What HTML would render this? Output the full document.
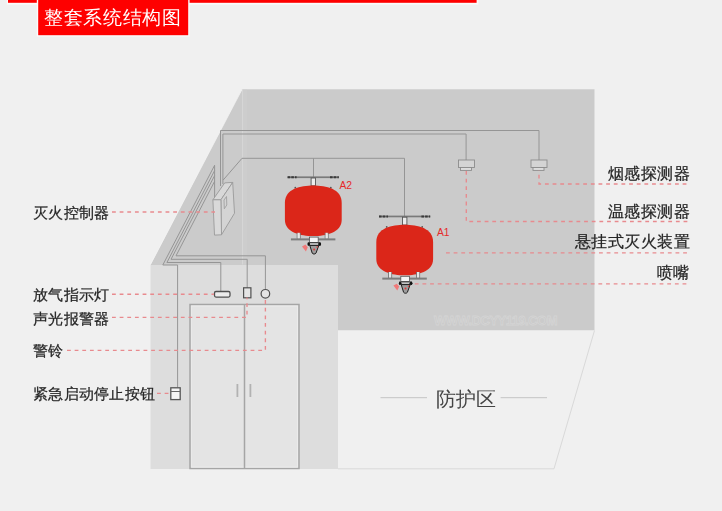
<!DOCTYPE html>
<html><head><meta charset="utf-8">
<style>
html,body{margin:0;padding:0;background:#f0f0f0;}
body{width:722px;height:511px;overflow:hidden;position:relative;font-family:"Liberation Sans",sans-serif;}
svg{position:absolute;left:0;top:0;}
.t{position:absolute;white-space:nowrap;will-change:transform;color:#262626;font-size:15.4px;line-height:1;-webkit-text-stroke:0.25px #262626;letter-spacing:0.3px;}
</style></head><body>
<svg width="722" height="511" viewBox="0 0 722 511">
  <!-- header -->
  <rect x="6.8" y="0" width="471.6" height="4.6" fill="#fbfbfb"/>
  <rect x="8" y="0" width="468.6" height="2.8" fill="#fe0000"/>
  <rect x="36.8" y="0" width="152.8" height="36.6" fill="#fbfbfb"/>
  <rect x="38.2" y="0" width="150" height="35.2" fill="#fe0000"/>

  <!-- room back + ceiling -->
  <polygon points="242,89.3 594.5,89.3 594.5,330.3 338,330.3 338,265 150.5,265" fill="#cbcbcb"/>
  <!-- faint vertical light band -->
  <rect x="242" y="89.5" width="1" height="175" fill="#d6d6d6"/><rect x="243" y="89.5" width="4" height="175" fill="#d0d0d0" opacity="0.5"/><path d="M242,89.5 L150.5,264.5" stroke="#f6f6f6" stroke-width="1" opacity="0.7"/>
  <!-- left wall -->
  <rect x="150.5" y="265" width="187.5" height="204" fill="#dddddd"/>
  <!-- floor -->
  <polyline points="594.5,330.5 554,468.8 338,468.8" fill="none" stroke="#d9d9d9" stroke-width="1"/>

  <!-- wires -->
  <g fill="none" stroke="#959595" stroke-width="1">
    <path d="M220.5,186 V130.5 H539 V160"/>
    <path d="M222.9,184 V134 H466.1 V160"/>
    <path d="M223.2,180 L242,158.3 H404.5 V216.5"/>
    <path d="M313.5,158.3 V177"/>
    <path d="M214.6,198 V165.3 L162.8,265 H177.6 V387.5"/>
    <path d="M214.6,170.6 L166.9,262.5 H220.8 V291.3"/>
    <path d="M214.6,175.6 L171,259.3 H247.2 V288"/>
    <path d="M214.6,181.3 L176,255.8 H265.4 V289.5"/>
  </g>

  <!-- controller box -->
  <g stroke="#9a9a9a" stroke-width="0.9" stroke-linejoin="round">
    <polygon points="212.9,199.8 224.7,182.9 232.7,182.4 220.9,199.8" fill="#d8d8d8"/>
    <polygon points="220.9,199.8 232.7,182.4 234.5,213.2 221.5,234.8" fill="#d4d4d4"/>
    <polygon points="212.9,199.8 220.9,199.8 221.5,234.8 214.5,235.1" fill="#d9d9d9"/>
    <path d="M224,200 L226.5,196.5 L226.8,205 L224.3,208.8 Z" fill="none" stroke="#a0a0a0"/>
  </g>
  <!-- detectors -->
  <g stroke="#8c8c8c" stroke-width="0.9" fill="#d4d4d4">
    <rect x="458.5" y="160" width="16" height="7.5"/>
    <rect x="460.5" y="167.5" width="11" height="2.9" fill="#dddddd"/>
    <rect x="531" y="160" width="16" height="7.5"/>
    <rect x="533" y="167.5" width="11" height="2.9" fill="#dddddd"/>
  </g>

  <!-- tank A1 (defined) -->
  <g>
    <rect x="379" y="215.6" width="51.2" height="1.7" fill="#7a7a7a"/>
    <path d="M379,216.45 H388" stroke="#3a3a3a" stroke-width="1.9" stroke-dasharray="2.6,1.1"/>
    <path d="M421.4,216.45 H430.2" stroke="#3a3a3a" stroke-width="1.9" stroke-dasharray="2.6,1.1"/>
    <rect x="402.5" y="217.2" width="4.4" height="7.8" fill="#ececec" stroke="#555" stroke-width="0.9"/><circle cx="386.7" cy="226.9" r="0.9" fill="#555"/><circle cx="422.2" cy="226.9" r="0.9" fill="#555"/>
    <path d="M376.3,242 C376.3,228 392,224.8 404.7,224.8 C417.4,224.8 433.1,228 433.1,242 L433.1,259 C433.1,272 417.4,275.3 404.7,275.3 C392,275.3 376.3,272 376.3,259 Z" fill="#db2619"/>
    <path d="M388.6,272 V278 M391.6,272 V278 M416.6,272 V278 M419.6,272 V278" stroke="#777" stroke-width="1"/><rect x="389" y="272" width="2.2" height="5.6" fill="#e8e8e8"/><rect x="417" y="272" width="2.2" height="5.6" fill="#e8e8e8"/>
    <rect x="382.3" y="277.6" width="44.5" height="2" fill="#7d7d7d"/>
    <rect x="400.8" y="276.3" width="8.8" height="5.3" fill="#f6f6f6" stroke="#555" stroke-width="0.8"/>
    <rect x="399.6" y="281.9" width="12" height="2.7" fill="#c4c4c4" stroke="#262626" stroke-width="0.8"/>
    <circle cx="400.2" cy="283.2" r="1.3" fill="#111"/>
    <circle cx="411" cy="283.2" r="1.5" fill="#111"/>
    <path d="M401.2,284.6 L410.2,284.6 L407.4,292.3 A2.4,2.4 0 0 1 403.6,292.3 Z" fill="#9d9d9d" stroke="#1e1e1e" stroke-width="1"/>
    <circle cx="405.5" cy="288.6" r="1" fill="#e43a3a"/>
    <circle cx="408.6" cy="286.2" r="0.8" fill="#e43a3a"/>
    <path d="M393.4,285.6 L396.8,283.8 L399.2,286.4 L397.3,290.6 Z" fill="#f07a7a"/>
  </g>
  <g transform="translate(-91.4,-39.2)">
    <rect x="379" y="215.6" width="51.2" height="1.7" fill="#7a7a7a"/>
    <path d="M379,216.45 H388" stroke="#3a3a3a" stroke-width="1.9" stroke-dasharray="2.6,1.1"/>
    <path d="M421.4,216.45 H430.2" stroke="#3a3a3a" stroke-width="1.9" stroke-dasharray="2.6,1.1"/>
    <rect x="402.5" y="217.2" width="4.4" height="7.8" fill="#ececec" stroke="#555" stroke-width="0.9"/><circle cx="386.7" cy="226.9" r="0.9" fill="#555"/><circle cx="422.2" cy="226.9" r="0.9" fill="#555"/>
    <path d="M376.3,242 C376.3,228 392,224.8 404.7,224.8 C417.4,224.8 433.1,228 433.1,242 L433.1,259 C433.1,272 417.4,275.3 404.7,275.3 C392,275.3 376.3,272 376.3,259 Z" fill="#db2619"/>
    <path d="M388.6,272 V278 M391.6,272 V278 M416.6,272 V278 M419.6,272 V278" stroke="#777" stroke-width="1"/><rect x="389" y="272" width="2.2" height="5.6" fill="#e8e8e8"/><rect x="417" y="272" width="2.2" height="5.6" fill="#e8e8e8"/>
    <rect x="382.3" y="277.6" width="44.5" height="2" fill="#7d7d7d"/>
    <rect x="400.8" y="276.3" width="8.8" height="5.3" fill="#f6f6f6" stroke="#555" stroke-width="0.8"/>
    <rect x="399.6" y="281.9" width="12" height="2.7" fill="#c4c4c4" stroke="#262626" stroke-width="0.8"/>
    <circle cx="400.2" cy="283.2" r="1.3" fill="#111"/>
    <circle cx="411" cy="283.2" r="1.5" fill="#111"/>
    <path d="M401.2,284.6 L410.2,284.6 L407.4,292.3 A2.4,2.4 0 0 1 403.6,292.3 Z" fill="#9d9d9d" stroke="#1e1e1e" stroke-width="1"/>
    <circle cx="405.5" cy="288.6" r="1" fill="#e43a3a"/>
    <circle cx="408.6" cy="286.2" r="0.8" fill="#e43a3a"/>
    <path d="M393.4,285.6 L396.8,283.8 L399.2,286.4 L397.3,290.6 Z" fill="#f07a7a"/>
  </g>

  <!-- wall devices -->
  <rect x="214.5" y="291.5" width="15.5" height="5.6" rx="1.5" fill="#ececec" stroke="#505050" stroke-width="1.3"/>
  <rect x="243.6" y="287.8" width="7.3" height="10" fill="#e4e4e4" stroke="#505050" stroke-width="1.2"/>
  <circle cx="265.4" cy="293.8" r="4.3" fill="#e4e4e4" stroke="#505050" stroke-width="1.2"/>
  <rect x="170.8" y="387.8" width="9.4" height="11.8" fill="#f4f4f4" stroke="#555" stroke-width="1.3"/>
  <line x1="171" y1="391.5" x2="180" y2="391.5" stroke="#666" stroke-width="1"/>

  <!-- door -->
  <rect x="190" y="304.5" width="109" height="164" fill="#e4e4e4" stroke="#a5a5a5" stroke-width="1.5"/>
  <rect x="191.6" y="306.1" width="105.8" height="161" fill="none" stroke="#ebebeb" stroke-width="1"/>
  <line x1="244.5" y1="305" x2="244.5" y2="468" stroke="#a5a5a5" stroke-width="1.5"/>
  <line x1="237.4" y1="384" x2="237.4" y2="397" stroke="#b2b2b2" stroke-width="1.8"/>
  <line x1="250.4" y1="384" x2="250.4" y2="397" stroke="#b2b2b2" stroke-width="1.8"/>

  <!-- dashed leaders -->
  <g fill="none" stroke="#e88a8e" stroke-width="1.35" stroke-dasharray="3.8,3.85">
    <path d="M112,212 H215"/>
    <path d="M539,170.5 V184 H688" stroke-dashoffset="3.5"/>
    <path d="M466.3,171 V221.5 H688"/>
    <path d="M446,252.9 H688"/>
    <path d="M414.8,283.8 H688"/>
    <path d="M112,294.2 H214"/>
    <path d="M112,317.3 H247 V297.5"/>
    <path d="M67,350.3 H265.4 V298.5"/>
    <path d="M157,393.4 H170"/>
  </g>

  <!-- protection zone lines -->
  <line x1="380.5" y1="397.7" x2="427" y2="397.7" stroke="#c4c4c4" stroke-width="1"/>
  <line x1="500.6" y1="397.7" x2="547" y2="397.7" stroke="#c4c4c4" stroke-width="1"/>

  <!-- watermark -->
  <text x="434" y="324.5" font-family="Liberation Sans" font-weight="bold" font-size="13" fill="#c9c9c9" stroke="#d4d4d4" stroke-width="0.9" textLength="123.5">WWW.DCYY119.COM</text>

  <!-- labels A1/A2 -->
  <text x="339.5" y="188.6" font-family="Liberation Sans" font-size="10.3" fill="#e52a2a">A2</text>
  <text x="437" y="236" font-family="Liberation Sans" font-size="10.3" fill="#e52a2a">A1</text>
</svg>

<div class="t" style="left:44px;top:7.7px;font-size:19px;color:#fff;-webkit-text-stroke:0;letter-spacing:0.7px;">整套系统结构图</div>

<div class="t" style="left:33px;top:205px;">灭火控制器</div>
<div class="t" style="left:33px;top:286.5px;">放气指示灯</div>
<div class="t" style="left:33px;top:310.5px;">声光报警器</div>
<div class="t" style="left:33px;top:342.5px;">警铃</div>
<div class="t" style="left:33px;top:385.5px;">紧急启动停止按钮</div>

<div class="t" style="right:32.1px;top:166px;font-size:16px;letter-spacing:0.45px;">烟感探测器</div>
<div class="t" style="right:32.1px;top:204px;font-size:16px;letter-spacing:0.45px;">温感探测器</div>
<div class="t" style="right:32.1px;top:233.5px;font-size:16px;letter-spacing:0.45px;">悬挂式灭火装置</div>
<div class="t" style="right:32.1px;top:265px;font-size:16px;letter-spacing:0.45px;">喷嘴</div>

<div class="t" style="left:435.6px;top:390px;font-size:19.6px;color:#444;-webkit-text-stroke:0;letter-spacing:0;">防护区</div>
</body></html>
